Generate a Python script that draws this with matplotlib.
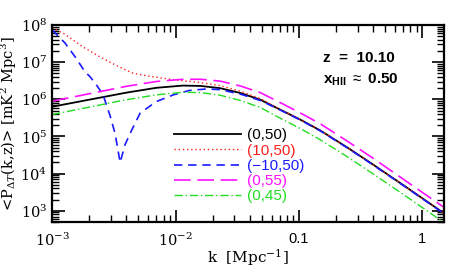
import numpy as np
import matplotlib
matplotlib.use('Agg')
import matplotlib.pyplot as plt
from matplotlib.ticker import FixedLocator, FixedFormatter, LogLocator, NullFormatter

plt.rcParams['font.family'] = ['Liberation Sans', 'DejaVu Sans']
plt.rcParams['mathtext.fontset'] = 'custom'
plt.rcParams['mathtext.rm'] = 'Liberation Sans'
plt.rcParams['mathtext.it'] = 'Liberation Sans'
plt.rcParams['mathtext.bf'] = 'Liberation Sans:bold'

# log10 of <P>
k_main = [1e-3, 2e-3, 4e-3, 7e-3, 0.0115, 0.016, 0.023, 0.0335, 0.0486, 0.0707,
          0.103, 0.149, 0.25, 0.4, 0.7, 1.5]
logp_050 = [5.80, 5.99, 6.18, 6.31, 6.37, 6.36, 6.30, 6.17, 5.99, 5.72,
            5.45, 5.16, 4.69, 4.24, 3.69, 2.93]
logp_055 = [5.95, 6.15, 6.35, 6.48, 6.54, 6.54, 6.49, 6.36, 6.18, 5.91,
            5.63, 5.34, 4.86, 4.41, 3.85, 3.09]
logp_045 = [5.59, 5.79, 5.99, 6.12, 6.19, 6.18, 6.11, 5.97, 5.78, 5.49,
            5.21, 4.91, 4.44, 3.99, 3.44, 2.68]

k_red = [1e-3, 1.23e-3, 1.78e-3, 2.45e-3, 3.37e-3, 4.54e-3, 6.2e-3, 8.6e-3, 0.0115,
         0.016, 0.023, 0.0335, 0.0486, 0.0707, 0.103, 0.149, 0.25, 0.4, 0.7, 1.5]
logp_red = [7.92, 7.78, 7.41, 7.14, 6.90, 6.70, 6.62, 6.55, 6.50,
            6.45, 6.37, 6.22, 6.02, 5.73, 5.45, 5.16, 4.69, 4.24, 3.69, 2.93]

k_blue = [1e-3, 1.27e-3, 1.54e-3, 1.85e-3, 2.03e-3, 2.32e-3, 2.59e-3, 2.95e-3, 3.24e-3,
          3.56e-3, 3.90e-3, 4.43e-3, 5.17e-3, 7.0e-3, 9.6e-3, 0.013, 0.018, 0.023,
          0.0335, 0.0486, 0.0707, 0.103, 0.149, 0.25, 0.4, 0.7, 1.5]
logp_blue = [7.87, 7.52, 7.14, 6.74, 6.61, 6.36, 6.12, 5.56, 5.08,
             4.30, 4.78, 5.18, 5.63, 5.94, 6.12, 6.24, 6.28, 6.26,
             6.14, 5.97, 5.71, 5.44, 5.15, 4.68, 4.23, 3.68, 2.92]

colors = ['black', '#ff2020', '#1a1aff', '#ff10ff', '#22dd22']

fig = plt.figure(figsize=(4.69, 2.72), dpi=100)
ax = fig.add_axes([0.111, 0.184, 0.836, 0.724])

ax.plot(k_main, 10 ** np.array(logp_050), color=colors[0], lw=1.3, label='(0,50)')
ax.plot(k_red, 10 ** np.array(logp_red), color=colors[1], lw=1.0, ls=(0, (1, 2)), label='(10,50)')
ax.plot(k_blue, 10 ** np.array(logp_blue), color=colors[2], lw=1.2, ls=(0, (5, 3.5)), label='(\u221210,50)')
ax.plot(k_main, 10 ** np.array(logp_055), color=colors[3], lw=1.2, ls=(0, (10, 4)), label='(0,55)')
ax.plot(k_main, 10 ** np.array(logp_045), color=colors[4], lw=1.0, ls=(0, (6, 2, 1, 2)), label='(0,45)')

ax.set_xscale('log')
ax.set_yscale('log')
ax.set_xlim(1e-3, 1.5)
ax.set_ylim(5e2, 1e8)

ax.xaxis.set_major_locator(FixedLocator([1e-3, 1e-2, 0.1, 1]))
ax.xaxis.set_major_formatter(FixedFormatter([r'$10^{-3}$', r'$10^{-2}$', '0.1', '1']))
ax.xaxis.set_minor_locator(LogLocator(base=10, subs=np.arange(2, 10)))
ax.xaxis.set_minor_formatter(NullFormatter())
ax.yaxis.set_major_locator(FixedLocator([1e3, 1e4, 1e5, 1e6, 1e7, 1e8]))
ax.yaxis.set_major_formatter(FixedFormatter([r'$10^{%d}$' % i for i in range(3, 9)]))
ax.yaxis.set_minor_locator(LogLocator(base=10, subs=np.arange(2, 10)))
ax.yaxis.set_minor_formatter(NullFormatter())

ax.tick_params(which='both', direction='in', top=True, right=True, labelsize=10.5)
ax.tick_params(which='major', length=9, width=1.2)
ax.tick_params(which='minor', length=5, width=1.0)
ax.tick_params(axis='x', pad=7)
for lab in ax.get_yticklabels():
    lab.set_fontfamily('DejaVu Serif')
    lab.set_math_fontfamily('dejavuserif')
for lab in ax.get_xticklabels()[:2]:
    lab.set_math_fontfamily('dejavuserif')
for s in ax.spines.values():
    s.set_linewidth(1.6)

ax.set_xlabel(r'k  [Mpc$^{-1}$]', fontsize=11, labelpad=-1, fontfamily='DejaVu Serif',
              math_fontfamily='dejavuserif')
ax.set_ylabel(r'<P$_{\Delta T}$(k,z)> [mK$^2$ Mpc$^3$]', fontsize=10.5, labelpad=1,
              fontfamily='DejaVu Serif', math_fontfamily='dejavuserif')

leg = ax.legend(loc='upper left', bbox_to_anchor=(0.31, 0.475), frameon=False,
                fontsize=11, handlelength=4.4, labelspacing=0.08, handletextpad=0.4,
                borderpad=0, borderaxespad=0)
for t, c in zip(leg.get_texts(), colors):
    t.set_color(c)

fig.text(0.688, 0.785, 'z  =  10.10', fontsize=11, fontweight='bold', ha='left', va='center')
fig.text(0.688, 0.705, r'x$_{\mathbf{HII}}$ $\approx$ 0.50', fontsize=11, fontweight='bold',
         ha='left', va='center')

fig.savefig('out.png', dpi=100)
